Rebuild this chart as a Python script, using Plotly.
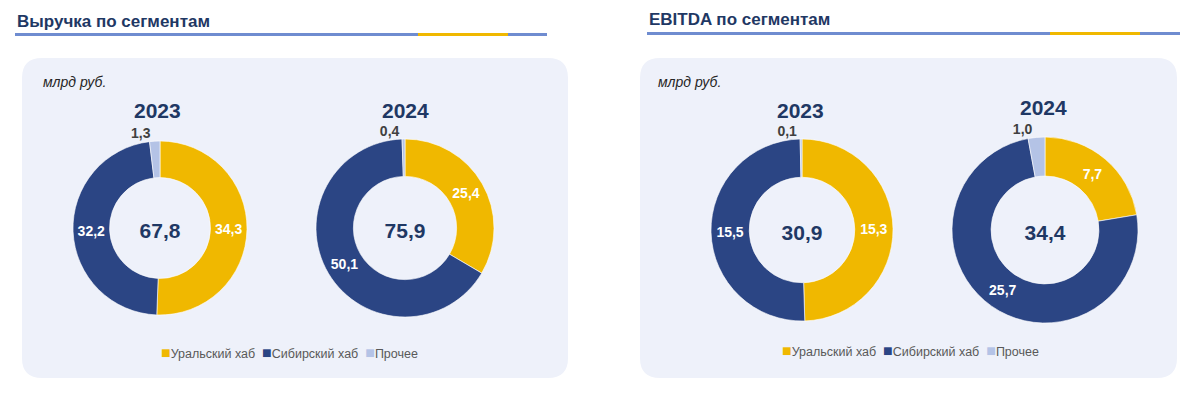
import plotly.graph_objects as go

segments = ["Уральский хаб", "Сибирский хаб", "Прочее"]
years = ["2023", "2024"]
revenue_2023 = [34.3, 32.2, 1.3]
revenue_2024 = [25.4, 50.1, 0.4]
ebitda_2023 = [15.3, 15.5, 0.1]
ebitda_2024 = [7.7, 25.7, 1.0]

colors = ["#F0B800", "#2B4584", "#B4C3E6"]
NAVY = "#1F3864"
OFF = 8  # page body margin
W, H = 1200 - OFF, 410 - OFF
FONT = "Liberation Sans"


def X(px):
    return (px - OFF) / W


def Y(py):
    return 1 - (py - OFF) / H


def px_dom(cx, cy, r):
    # domain in paper coords for a pie centred at (cx, cy) px with radius r px
    return dict(x=[X(cx - r), X(cx + r)], y=[Y(cy + r), Y(cy - r)])


def fmt(v):
    return f"{v:.1f}".replace(".", ",")


fig = go.Figure()

pies = [
    (revenue_2023, (160, 228, 87)),
    (revenue_2024, (405, 228, 89)),
    (ebitda_2023, (802, 230, 91)),
    (ebitda_2024, (1045, 230, 93)),
]

for vals, (cx, cy, r) in pies:
    fig.add_trace(go.Pie(
        labels=segments, values=vals, sort=False, direction="clockwise",
        hole=0.58, domain=px_dom(cx, cy, r),
        marker=dict(colors=colors, line=dict(color="white", width=0.6)),
        text=[fmt(v) for v in vals], textinfo="text",
        textposition=["inside", "inside", "outside"],
        insidetextorientation="horizontal",
        insidetextfont=dict(family=FONT, size=14, color="white", weight="bold"),
        outsidetextfont=dict(family=FONT, size=14, color="#404040", weight="bold"),
        title=dict(text=fmt(sum(vals)), position="middle center",
                   font=dict(family=FONT, size=21, color=NAVY, weight="bold")),
        showlegend=False,
    ))


# panels with rounded corners
def rounded(x0, y0, x1, y1, rad):
    rx, ry = rad / W, rad / H
    a0, a1 = X(x0), X(x1)
    b0, b1 = Y(y1), Y(y0)
    return (f"M {a0+rx},{b0} L {a1-rx},{b0} Q {a1},{b0} {a1},{b0+ry} "
            f"L {a1},{b1-ry} Q {a1},{b1} {a1-rx},{b1} L {a0+rx},{b1} "
            f"Q {a0},{b1} {a0},{b1-ry} L {a0},{b0+ry} Q {a0},{b0} {a0+rx},{b0} Z")


shapes = []
for x0, x1 in [(22, 568), (640, 1177)]:
    shapes.append(dict(type="path", xref="paper", yref="paper", path=rounded(x0, 58, x1, 378, 20),
                       fillcolor="#EEF1FA", line=dict(width=0), layer="below"))

# title underlines
for x0, x1, ya, y0, y1 in [(15, 547, 34.5, 418, 508), (647, 1180, 33.5, 1050, 1140)]:
    shapes.append(dict(type="line", xref="paper", yref="paper", x0=X(x0), x1=X(x1),
                       y0=Y(ya), y1=Y(ya), line=dict(color="#6F8CD0", width=3)))
    shapes.append(dict(type="line", xref="paper", yref="paper", x0=X(y0), x1=X(y1),
                       y0=Y(ya), y1=Y(ya), line=dict(color="#F0B800", width=3)))

annotations = []
for txt, x, y in [("Выручка по сегментам", 15, 21), ("EBITDA по сегментам", 647, 19)]:
    annotations.append(dict(text=txt, x=X(x), y=Y(y), xref="paper", yref="paper",
                            xanchor="left", yanchor="middle", showarrow=False,
                            font=dict(family=FONT, size=17, color=NAVY, weight="bold")))
for x in [41, 656]:
    annotations.append(dict(text="<i>млрд руб.</i>", x=X(x), y=Y(82), xref="paper", yref="paper",
                            xanchor="left", yanchor="middle", showarrow=False,
                            font=dict(family=FONT, size=14, color="#262626")))
for (yr, x, y) in [(years[0], 157, 110), (years[1], 405, 110), (years[0], 800, 110), (years[1], 1043, 108)]:
    annotations.append(dict(text=yr, x=X(x), y=Y(y), xref="paper", yref="paper",
                            xanchor="center", yanchor="middle", showarrow=False,
                            font=dict(family=FONT, size=21, color=NAVY, weight="bold")))

# legends under each panel
legend_text = "  ".join(
    f"<span style='color:{c};font-size:16px'>■</span>{s}" for s, c in zip(segments, colors))
for x, y in [(289, 352), (910, 350)]:
    annotations.append(dict(text=legend_text, x=X(x), y=Y(y), xref="paper", yref="paper",
                            xanchor="center", yanchor="middle", showarrow=False,
                            font=dict(family=FONT, size=12.5, color="#595959")))

fig.update_layout(
    width=W, height=H, margin=dict(l=0, r=0, t=0, b=0),
    paper_bgcolor="white", plot_bgcolor="white",
    shapes=shapes, annotations=annotations,
)

fig.write_html("out.html")
